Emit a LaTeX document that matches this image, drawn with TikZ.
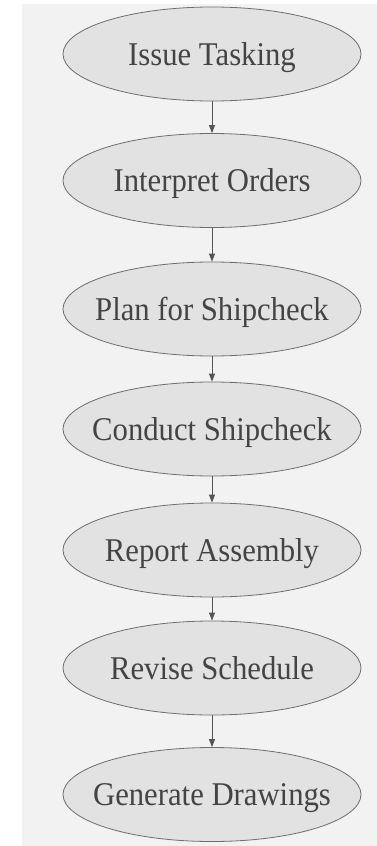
\documentclass[tikz,border=0pt]{standalone}
\usepackage{fontspec}
\setmainfont{Liberation Serif}
\usetikzlibrary{shapes.geometric,arrows.meta}
\definecolor{panelbg}{HTML}{F2F2F2}
\definecolor{ellfill}{HTML}{E2E2E2}
\definecolor{elldraw}{HTML}{6E6E6E}
\definecolor{txtcol}{HTML}{444444}
\definecolor{arrcol}{HTML}{555555}
\tikzset{
  stepell/.style={ellipse, draw=elldraw, fill=ellfill, line width=0.8pt,
    minimum width=298pt, minimum height=94pt, inner sep=0pt},
  steptext/.style={inner sep=0pt, text=txtcol, text height=22pt, text depth=0pt,
    font=\fontsize{30.7}{32}\selectfont},
  flowarrow/.style={draw=arrcol, line width=0.8pt,
    -{Triangle[length=8pt,width=6pt]}, color=arrcol}
}
\newcommand{\tallt}[1]{\scalebox{1}[1.08]{#1}}
\begin{document}
\begin{tikzpicture}[x=1pt,y=-1pt]
\useasboundingbox (0,0) rectangle (377,846);
\fill[panelbg] (22,4) rectangle (377,846);
\node[stepell] (n1) at (212,54) {};
\node[stepell] (n2) at (212,180.5) {};
\node[stepell] (n3) at (212,309) {};
\node[stepell] (n4) at (212,429) {};
\node[stepell] (n5) at (212,550) {};
\node[stepell] (n6) at (212,668) {};
\node[stepell] (n7) at (212,794.5) {};
\node[steptext] (t1) at (n1) {\tallt{Issue Tasking}};
\node[steptext] (t2) at (n2) {\tallt{Interpret Orders}};
\node[steptext] (t3) at (n3) {\tallt{Plan for Shipcheck}};
\node[steptext] (t4) at (n4) {\tallt{Conduct Shipcheck}};
\node[steptext] (t5) at (n5) {\tallt{Report Assembly}};
\node[steptext] (t6) at (n6) {\tallt{Revise Schedule}};
\node[steptext] (t7) at (n7) {\tallt{Generate Drawings}};
\draw[flowarrow] (n1.south) -- (n2.north);
\draw[flowarrow] (n2.south) -- (n3.north);
\draw[flowarrow] (n3.south) -- (n4.north);
\draw[flowarrow] (n4.south) -- (n5.north);
\draw[flowarrow] (n5.south) -- (n6.north);
\draw[flowarrow] (n6.south) -- (n7.north);
\end{tikzpicture}
\end{document}
